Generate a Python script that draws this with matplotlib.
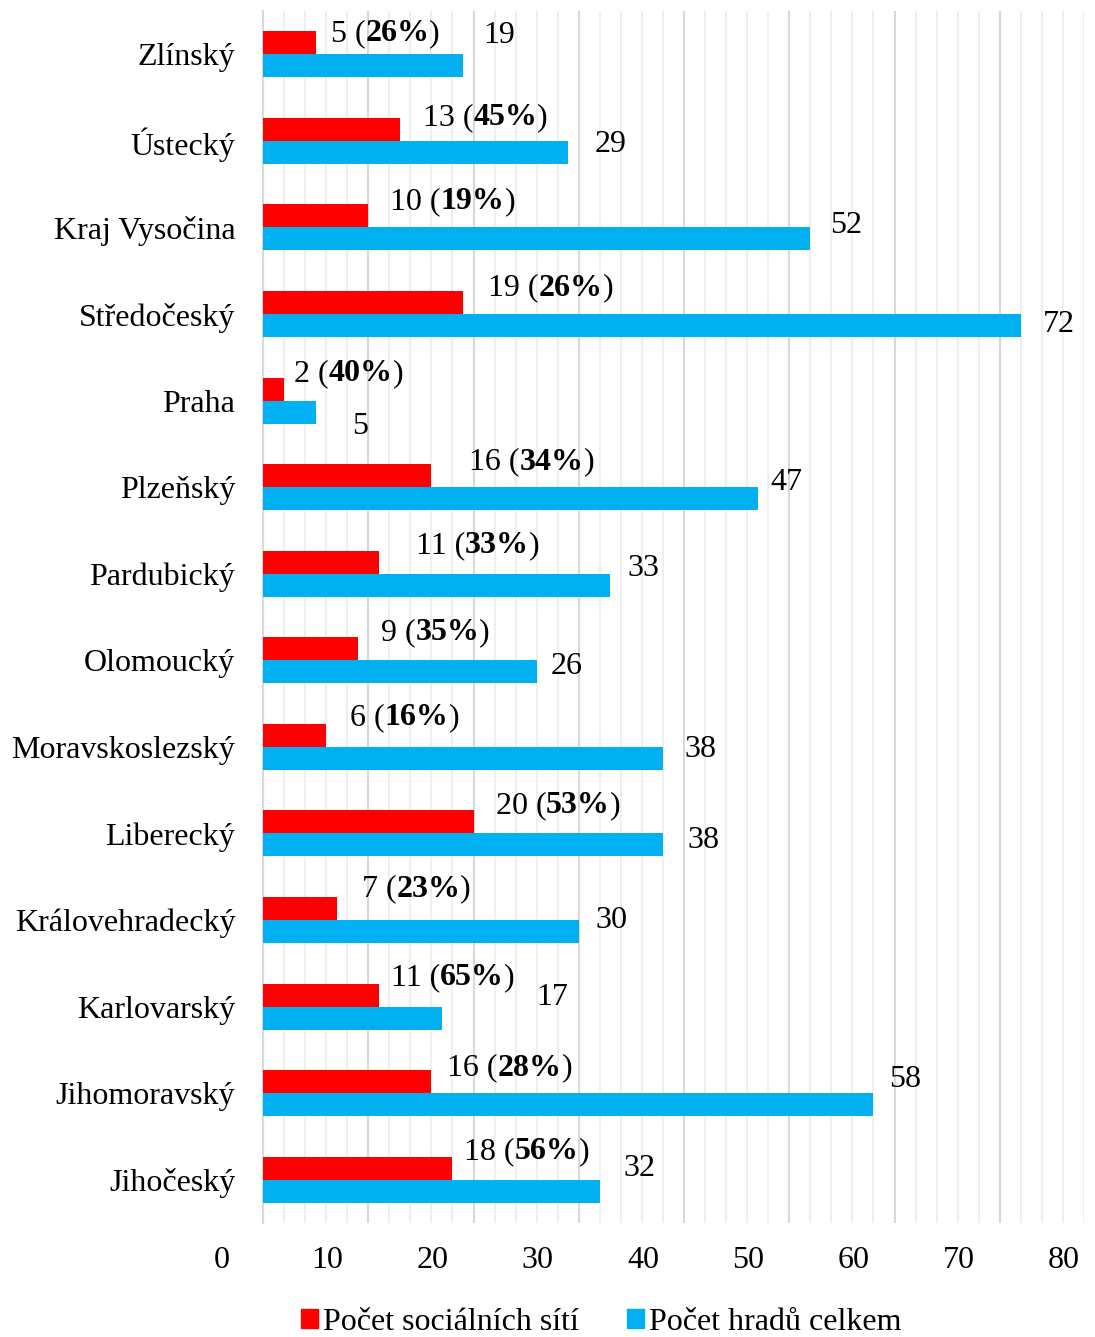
import matplotlib
matplotlib.use('Agg')
import matplotlib.pyplot as plt
from matplotlib.patches import Patch

plt.rcParams['font.family'] = ['Liberation Serif', 'DejaVu Serif']

kraje = ['Zlínský', 'Ústecký', 'Kraj Vysočina', 'Středočeský', 'Praha', 'Plzeňský',
         'Pardubický', 'Olomoucký', 'Moravskoslezský', 'Liberecký', 'Královehradecký',
         'Karlovarský', 'Jihomoravský', 'Jihočeský']
site = [5, 13, 10, 19, 2, 16, 11, 9, 6, 20, 7, 11, 16, 18]
hrady = [19, 29, 52, 72, 5, 47, 33, 26, 38, 38, 30, 17, 58, 32]
procenta = [26, 45, 19, 26, 40, 34, 33, 35, 16, 53, 23, 65, 28, 56]
x_labels = [0, 10, 20, 30, 40, 50, 60, 70, 80]
serie = ['Počet sociálních sítí', 'Počet hradů celkem']

# label offsets in pixels (dx right, dy down from category centre)
red_off = [(15, -21), (23, -23), (22, -26), (25, -26), (10, -27), (38, -25), (37, -28),
           (23, -28), (24, -29), (22, -28), (25, -31), (12, -29), (16, -25), (12, -28)]
blue_off = [(20, -19), (26, 4), (20, -2), (22, 10), (36, 26), (13, -5), (17, -5),
            (14, 6), (21, 3), (24, 7), (17, 0), (94, -9), (16, -14), (24, -11)]

red = '#FF0000'
blue = '#00B0F0'
fs = 23

fig = plt.figure(figsize=(10.95, 13.37), dpi=100)
ax = fig.add_axes([263 / 1095, 1 - 1223 / 1337, (1084 - 263) / 1095, (1223 - 11) / 1337])

h = 0.266
pos = list(range(len(kraje)))
ax.barh([p - h / 2 for p in pos], site, height=h, color=red, zorder=3)
ax.barh([p + h / 2 for p in pos], hrady, height=h, color=blue, zorder=3)

ax.set_xlim(0, 78)
ax.set_ylim(len(kraje) - 0.5, -0.5)

ax.set_xticks(range(0, 79, 10))
ax.set_xticks(range(0, 79, 2), minor=True)
ax.grid(axis='x', which='minor', color='#EFEFEF', lw=1.5, zorder=0)
ax.grid(axis='x', which='major', color='#D9D9D9', lw=1.5, zorder=1)
ax.tick_params(axis='x', which='both', length=0, labelbottom=False)
ax.set_yticks(pos)
ax.set_yticklabels(kraje, fontsize=fs, va='center_baseline')
ax.tick_params(axis='y', length=0, pad=20)
for s in ['top', 'right', 'bottom']:
    ax.spines[s].set_visible(False)
ax.spines['left'].set_color('#D9D9D9')
ax.spines['left'].set_linewidth(1.5)

for i in pos:
    dx, dy = red_off[i]
    t1 = ax.annotate(f'{site[i]} (', xy=(site[i], i), xytext=(dx, -dy),
                     textcoords='offset pixels', ha='left', va='center', fontsize=fs)
    t2 = ax.annotate(f'{procenta[i]}%', xy=(1, 0), xycoords=t1, ha='left', va='bottom',
                     fontsize=fs, fontweight='bold')
    ax.annotate(')', xy=(1, 0), xycoords=t2, ha='left', va='bottom', fontsize=fs)
    dx, dy = blue_off[i]
    ax.annotate(f'{hrady[i]}', xy=(hrady[i], i), xytext=(dx, -dy),
                textcoords='offset pixels', ha='left', va='center', fontsize=fs)

for v in x_labels:
    ax.annotate(str(v), xy=(v - 3.9, 0), xycoords=('data', 'axes fraction'),
                xytext=(0, -37), textcoords='offset pixels', ha='center', va='center',
                fontsize=fs, annotation_clip=False)

handles = [Patch(color=red), Patch(color=blue)]
fig.legend(handles, serie, loc='center', bbox_to_anchor=(0.549, 1 - 1322 / 1337),
           ncol=2, frameon=False, fontsize=fs, handlelength=0.55, handleheight=0.55,
           handletextpad=0.15, columnspacing=1.5)

fig.savefig('out.png', dpi=100)
